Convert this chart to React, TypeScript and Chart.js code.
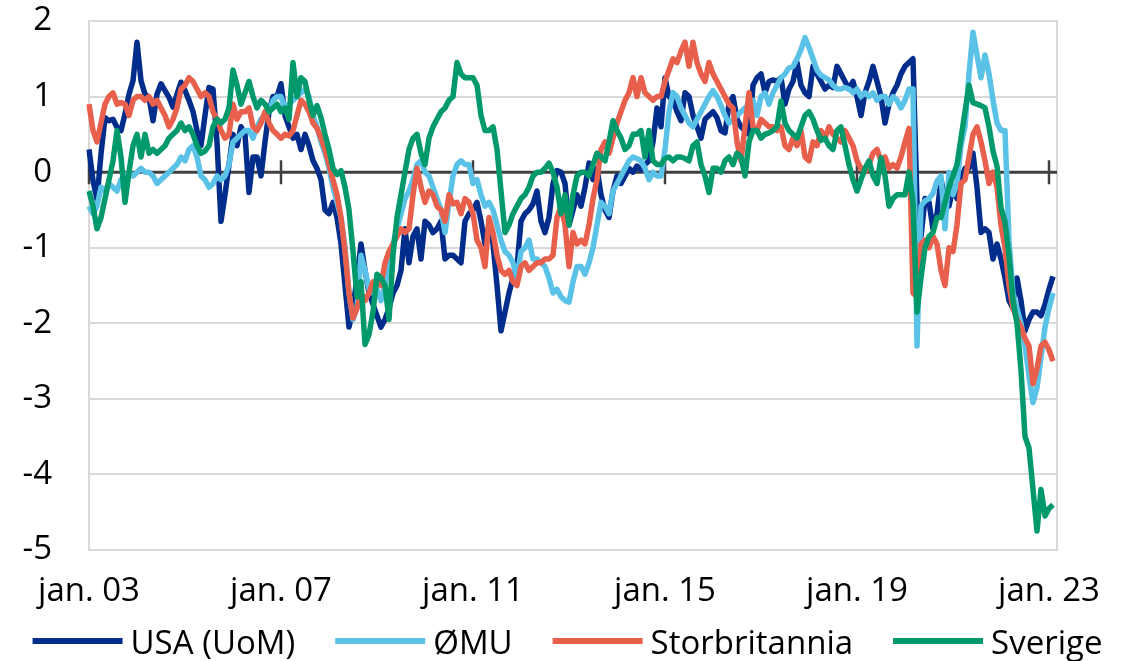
import React, { useEffect, useRef } from "react";
import { Chart, registerables } from "chart.js";

Chart.register(...registerables);

const monthNames = ["jan", "feb", "mar", "apr", "mai", "jun", "jul", "aug", "sep", "okt", "nov", "des"];
const categories: string[] = [];
for (let yr = 3; yr <= 23; yr++) {
  for (let mo = 0; mo < 12; mo++) {
    if (categories.length < 243) categories.push(`${monthNames[mo]}. ${String(yr).padStart(2, "0")}`);
  }
}
const tickLabels = ["jan. 03", "jan. 07", "jan. 11", "jan. 15", "jan. 19", "jan. 23"];
const yTicks = [2, 1, 0, -1, -2, -3, -4, -5];

const usa = [
  0.3, -0.11, -0.36, 0.24, 0.72, 0.68, 0.7, 0.59, 0.55, 0.77, 1.03, 1.21, 1.72, 1.21, 1.03, 0.99, 0.68, 1.03, 1.17, 1.08, 0.99, 0.86, 1.03, 1.19,
  1.08, 0.95, 0.8, 0.55, 0.35, 0.75, 1.12, 1.1, 0.4, -0.65, -0.3, 0.1, 0.5, 0.35, 0.6, 0.5, -0.27, 0.2, 0.2, -0.05, 0.4, 0.8, 1.0, 1.0,
  1.17, 0.75, 0.6, 0.45, 0.5, 0.3, 0.5, 0.35, 0.15, 0.05, -0.1, -0.5, -0.55, -0.4, -0.6, -0.95, -1.5, -2.05, -1.8, -1.4, -0.95, -1.3, -1.6, -1.75,
  -1.9, -2.05, -1.95, -1.8, -1.6, -1.5, -1.3, -0.75, -1.2, -0.85, -0.75, -1.15, -0.65, -0.7, -0.8, -0.75, -0.65, -1.15, -1.1, -1.1, -1.15, -1.2, -0.65, -0.55,
  -0.5, -0.4, -0.65, -0.95, -0.7, -0.95, -1.5, -2.1, -1.85, -1.6, -1.4, -1.25, -0.65, -0.55, -0.5, -0.42, -0.25, -0.65, -0.8, -0.6, -0.15, 0.02, 0.0, -0.15,
  -0.7, -0.5, -0.3, -0.45, -0.2, 0.12, -0.1, 0.05, -0.3, -0.5, -0.6, -0.25, -0.05, -0.15, -0.05, 0.05, 0.0, 0.08, 0.03, 0.1, 0.15, 0.4, 0.85, 0.6,
  1.25, 1.0, 0.95, 0.8, 0.68, 1.05, 1.0, 0.75, 0.6, 0.45, 0.7, 0.75, 0.8, 0.72, 0.55, 0.52, 0.9, 1.0, 0.7, 0.6, 0.55, 0.5, 1.15, 1.25,
  1.3, 1.05, 1.2, 1.22, 1.2, 1.25, 0.9, 1.1, 1.2, 1.45, 1.15, 1.05, 1.0, 1.4, 1.3, 1.2, 1.1, 1.15, 1.12, 1.4, 1.3, 1.2, 1.1, 1.2,
  1.0, 0.75, 1.05, 1.2, 1.4, 1.2, 1.0, 0.65, 0.9, 1.05, 1.15, 1.3, 1.4, 1.45, 1.5, -0.4, -0.85, -0.35, -0.4, -0.75, -0.55, -0.1, -0.35, -0.45,
  -0.2, -0.35, -0.1, 0.05, 0.05, 0.25, -0.2, -0.8, -0.75, -0.8, -1.15, -0.95, -1.15, -1.4, -1.7, -1.8, -1.4, -1.7, -2.1, -1.95, -1.85, -1.85, -1.9, -1.75, -1.55, -1.38,
];

const emu = [
  -0.45, -0.55, -0.45, -0.2, -0.25, -0.15, -0.2, -0.25, -0.1, -0.05, 0.0, -0.05, 0.0, 0.05, 0.0, 0.0, -0.05, -0.15, -0.1, -0.05, 0.0, 0.05, 0.1, 0.2,
  0.15, 0.3, 0.35, 0.2, -0.05, -0.1, -0.2, -0.15, -0.05, -0.1, -0.05, 0.1, 0.4, 0.45, 0.5, 0.55, 0.55, 0.45, 0.6, 0.7, 0.75, 0.8, 0.95, 1.0,
  1.0, 0.85, 0.9, 0.95, 1.0, 1.05, 1.1, 1.0, 0.75, 0.6, 0.4, 0.25, 0.05, -0.2, -0.4, -0.6, -1.0, -1.6, -1.95, -1.8, -1.1, -1.3, -1.55, -1.6,
  -1.55, -1.7, -1.5, -1.2, -0.95, -0.75, -0.55, -0.35, -0.25, -0.1, 0.1, 0.15, 0.0, -0.05, -0.2, -0.35, -0.5, -0.8, -0.4, -0.05, 0.1, 0.15, 0.1, 0.1,
  -0.15, -0.1, -0.3, -0.45, -0.4, -0.5, -0.7, -0.9, -1.05, -1.1, -1.2, -1.4, -1.05, -1.0, -0.9, -1.15, -1.15, -1.2, -1.25, -1.4, -1.6, -1.55, -1.65, -1.7,
  -1.72, -1.45, -1.25, -1.25, -1.35, -1.2, -1.0, -0.7, -0.4, -0.45, -0.55, -0.25, -0.15, -0.05, 0.05, 0.15, 0.2, 0.18, 0.15, 0.05, -0.1, 0.0, -0.05, -0.05,
  0.3, 0.8, 1.05, 1.0, 0.85, 0.75, 0.65, 0.6, 0.7, 0.8, 0.9, 1.0, 1.08, 1.0, 0.88, 0.75, 0.65, 0.7, 0.75, 0.8, 0.85, 0.9, 0.95, 0.75,
  1.0, 1.05, 0.9, 1.05, 1.15, 1.25, 1.3, 1.38, 1.4, 1.5, 1.62, 1.78, 1.65, 1.5, 1.35, 1.28, 1.25, 1.22, 1.15, 1.1, 1.1, 1.12, 1.1, 1.05,
  1.1, 1.0, 1.05, 1.0, 1.05, 0.95, 1.0, 1.0, 0.9, 1.0, 0.95, 0.85, 0.95, 1.1, 1.1, -2.3, -0.45, -0.38, -0.35, -0.28, -0.12, -0.05, -0.75, 0.0,
  -0.3, -0.15, 0.35, 0.6, 1.3, 1.85, 1.55, 1.25, 1.55, 1.3, 0.95, 0.65, 0.55, 0.55, -0.9, -1.6, -1.8, -2.0, -2.3, -2.7, -3.05, -2.85, -2.45, -2.05, -1.8, -1.6,
];

const uk = [
  0.9, 0.55, 0.4, 0.65, 0.9, 1.0, 1.05, 0.9, 0.92, 0.9, 0.75, 0.95, 1.0, 1.0, 0.95, 1.0, 0.9, 0.95, 0.85, 0.75, 0.6, 0.7, 0.85, 1.1,
  1.15, 1.25, 1.2, 1.1, 1.0, 1.05, 1.0, 0.8, 0.7, 0.55, 0.45, 0.5, 0.9, 0.7, 0.8, 0.8, 0.85, 0.6, 0.55, 0.65, 0.8, 0.65, 0.55, 0.5,
  0.45, 0.5, 0.48, 0.55, 0.75, 0.95, 0.9, 0.8, 0.65, 0.58, 0.45, 0.3, 0.1, -0.1, -0.3, -0.6, -1.05, -1.6, -1.93, -1.8, -1.6, -1.7, -1.6, -1.45,
  -1.45, -1.5, -1.2, -1.05, -0.95, -0.85, -0.75, -0.8, -0.75, -0.3, 0.05, -0.2, -0.4, -0.25, -0.3, -0.45, -0.5, -0.65, -0.3, -0.42, -0.4, -0.55, -0.35, -0.4,
  -0.55, -0.9, -1.0, -1.25, -0.6, -0.8, -1.1, -1.3, -1.35, -1.3, -1.45, -1.5, -1.25, -1.2, -1.3, -1.25, -1.2, -1.2, -1.15, -1.15, -1.1, -0.6, -0.45, -0.7,
  -1.25, -0.8, -0.95, -0.9, -0.95, -0.7, -0.35, -0.1, 0.3, 0.4, 0.25, 0.45, 0.65, 0.8, 0.95, 1.05, 1.25, 1.0, 1.25, 1.05, 1.0, 0.95, 1.0, 1.0,
  1.2, 1.35, 1.5, 1.45, 1.6, 1.72, 1.4, 1.72, 1.45, 1.3, 1.2, 1.45, 1.3, 1.2, 1.1, 1.0, 0.9, 0.85, 0.4, 0.15, 0.6, 1.05, 0.6, 0.55,
  0.7, 0.65, 0.6, 0.6, 0.55, 0.6, 0.35, 0.3, 0.45, 0.35, 0.55, 0.2, 0.15, 0.4, 0.35, 0.55, 0.45, 0.6, 0.5, 0.45, 0.4, 0.55, 0.45, 0.35,
  0.15, 0.05, 0.0, 0.1, 0.25, 0.3, 0.15, 0.2, 0.05, 0.1, 0.05, 0.2, 0.4, 0.58, -1.6, -1.65, -0.95, -0.9, -1.0, -0.85, -0.95, -1.3, -1.5, -1.0,
  -1.05, -0.7, -0.15, -0.1, 0.2, 0.5, 0.6, 0.4, 0.15, -0.15, 0.0, -0.2, -0.7, -1.0, -1.5, -1.8, -1.95, -2.05, -2.2, -2.3, -2.8, -2.6, -2.3, -2.25, -2.35, -2.5,
];

const sweden = [
  -0.25, -0.45, -0.75, -0.6, -0.35, -0.1, 0.15, 0.55, 0.2, -0.4, 0.0, 0.35, 0.5, 0.2, 0.5, 0.25, 0.3, 0.25, 0.3, 0.35, 0.45, 0.5, 0.55, 0.65,
  0.55, 0.6, 0.5, 0.35, 0.25, 0.28, 0.35, 0.6, 0.7, 0.65, 0.7, 0.85, 1.35, 1.15, 0.9, 1.05, 1.2, 1.0, 0.85, 0.95, 0.9, 0.8, 0.85, 0.9,
  0.8, 0.85, 0.7, 1.45, 1.0, 1.25, 1.2, 0.95, 0.75, 0.88, 0.72, 0.5, 0.3, 0.05, -0.03, 0.02, -0.2, -0.5, -1.05, -1.65, -1.45, -2.28, -2.15, -1.85,
  -1.35, -1.4, -1.5, -1.95, -1.1, -0.6, -0.3, 0.0, 0.3, 0.45, 0.5, 0.25, 0.1, 0.45, 0.6, 0.7, 0.8, 0.85, 0.95, 1.0, 1.45, 1.3, 1.25, 1.25,
  1.25, 1.15, 0.75, 0.55, 0.55, 0.6, 0.3, -0.25, -0.8, -0.7, -0.55, -0.45, -0.35, -0.3, -0.2, -0.05, 0.0, 0.0, 0.05, 0.12, 0.0, -0.2, -0.55, -0.3,
  -0.7, -0.3, -0.05, 0.0, 0.0, -0.05, 0.1, 0.25, 0.2, 0.15, 0.4, 0.68, 0.55, 0.45, 0.3, 0.35, 0.5, 0.5, 0.55, 0.2, 0.55, 0.15, 0.1, 0.1,
  0.18, 0.2, 0.15, 0.2, 0.2, 0.18, 0.15, 0.35, 0.4, 0.1, -0.05, -0.27, 0.05, 0.05, 0.0, 0.15, 0.2, 0.1, 0.25, 0.2, -0.05, 0.4, 0.55, 0.55,
  0.45, 0.5, 0.52, 0.55, 0.6, 0.94, 0.65, 0.55, 0.5, 0.45, 0.6, 0.75, 0.8, 0.7, 0.55, 0.42, 0.45, 0.35, 0.3, 0.55, 0.6, 0.35, 0.1, -0.1,
  -0.25, -0.1, 0.05, 0.15, -0.05, -0.15, 0.19, -0.05, -0.45, -0.35, -0.3, -0.3, -0.3, 0.0, -0.4, -1.85, -1.4, -1.0, -0.85, -0.8, -0.6, -0.6, -0.4, -0.2,
  -0.05, 0.1, 0.45, 0.8, 1.15, 0.92, 0.9, 0.88, 0.85, 0.6, 0.28, 0.08, -0.47, -0.66, -1.1, -1.7, -2.0, -2.62, -3.5, -3.65, -4.2, -4.75, -4.2, -4.55, -4.45, -4.4,
];

const seriesNames = ["USA (UoM)", "ØMU", "Storbritannia", "Sverige"];
const seriesColors = ["#002D8C", "#5BC2E7", "#E8604C", "#00996B"];
const seriesData = [usa, emu, uk, sweden];

const FONT = "'Open Sans', 'Noto Sans', sans-serif";
const FONT_SIZE = 33;

// legend styling
const LEG_LINE_Y = 641;
const LEG_TEXT_Y = 645;
const LEG_LINE = 90;
const LEG_GAP = 8;
const LEG_ITEM_GAP = 40;

const framePlugin = {
  id: "frame",
  beforeDatasetsDraw(chart: any) {
    const { ctx, chartArea: a, scales } = chart;
    const x = scales.x;
    const y = scales.y;
    ctx.save();
    ctx.strokeStyle = "#D9D9D9";
    ctx.lineWidth = 2;
    ctx.strokeRect(a.left, a.top, a.right - a.left, a.bottom - a.top);
    const y0 = y.getPixelForValue(0);
    ctx.strokeStyle = "#404040";
    ctx.lineWidth = 3;
    ctx.beginPath();
    ctx.moveTo(a.left, y0);
    ctx.lineTo(a.right, y0);
    ctx.stroke();
    ctx.lineWidth = 2.5;
    ctx.beginPath();
    categories.forEach((c, i) => {
      if (tickLabels.includes(c)) {
        const px = x.getPixelForValue(i);
        ctx.moveTo(px, y0 - 12);
        ctx.lineTo(px, y0 + 12);
      }
    });
    ctx.stroke();
    ctx.restore();
  },
};

const legendPlugin = {
  id: "customLegend",
  afterDraw(chart: any) {
    const { ctx, width } = chart;
    ctx.save();
    ctx.font = `${FONT_SIZE}px ${FONT}`;
    const widths = seriesNames.map((n) => ctx.measureText(n).width);
    const total =
      widths.reduce((s, w) => s + w, 0) +
      seriesNames.length * (LEG_LINE + LEG_GAP) +
      (seriesNames.length - 1) * LEG_ITEM_GAP;
    let x = (width - total) / 2;
    seriesNames.forEach((n, i) => {
      ctx.strokeStyle = seriesColors[i];
      ctx.lineWidth = 6;
      ctx.beginPath();
      ctx.moveTo(x, LEG_LINE_Y);
      ctx.lineTo(x + LEG_LINE, LEG_LINE_Y);
      ctx.stroke();
      x += LEG_LINE + LEG_GAP;
      ctx.fillStyle = "#000";
      ctx.textBaseline = "middle";
      ctx.textAlign = "left";
      ctx.fillText(n, x, LEG_TEXT_Y);
      x += widths[i] + LEG_ITEM_GAP;
    });
    ctx.restore();
  },
};

export default function App() {
  const ref = useRef<HTMLCanvasElement | null>(null);
  useEffect(() => {
    if (!ref.current) return;
    const chart = new Chart(ref.current, {
      type: "line",
      data: {
        labels: categories,
        datasets: seriesData.map((d, i) => ({
          label: seriesNames[i],
          data: d,
          borderColor: seriesColors[i],
          backgroundColor: seriesColors[i],
          borderWidth: 5.5,
          pointRadius: 0,
          tension: 0,
          fill: false,
          borderJoinStyle: "round" as const,
          order: 4 - i,
        })),
      },
      options: {
        responsive: false,
        animation: false,
        events: [],
        layout: { padding: { top: 21, left: 0, right: 0, bottom: 51 } },
        plugins: {
          tooltip: { enabled: false },
          legend: { display: false },
        },
        scales: {
          x: {
            type: "category",
            offset: false,
            grid: { display: false, drawTicks: false },
            border: { display: false },
            ticks: {
              autoSkip: false,
              maxRotation: 0,
              minRotation: 0,
              padding: 22,
              color: "#000",
              font: { family: FONT, size: FONT_SIZE },
              callback: (_v: any, i: number) => (tickLabels.includes(categories[i]) ? categories[i] : ""),
            },
            afterFit: (s: any) => {
              s.height = 60;
              s.paddingLeft = 0;
              s.paddingRight = 0;
            },
          },
          y: {
            min: -5,
            max: 2,
            grid: {
              color: (c: any) => (c.tick && c.tick.value === 0 ? "rgba(0,0,0,0)" : "#D9D9D9"),
              lineWidth: 2,
              drawTicks: false,
            },
            border: { display: false },
            ticks: {
              stepSize: 1,
              padding: 37,
              color: "#000",
              font: { family: FONT, size: FONT_SIZE },
              callback: (v: any) => (yTicks.includes(Number(v)) ? String(v) : ""),
            },
            afterFit: (s: any) => {
              s.width = 89;
              s.paddingTop = 0;
              s.paddingBottom = 0;
            },
          },
          y2: {
            position: "right",
            display: true,
            min: -5,
            max: 2,
            grid: { display: false, drawTicks: false },
            border: { display: false },
            ticks: { display: false },
            afterFit: (s: any) => {
              s.width = 78;
              s.paddingTop = 0;
              s.paddingBottom = 0;
            },
          },
        },
      },
      plugins: [framePlugin, legendPlugin],
    } as any);
    return () => chart.destroy();
  }, []);
  return (
    <div style={{ position: "absolute", left: 0, top: 0, width: 1135, height: 661, overflow: "hidden", background: "#fff" }}>
      <canvas ref={ref} width={1135} height={661} style={{ display: "block" }} />
    </div>
  );
}
